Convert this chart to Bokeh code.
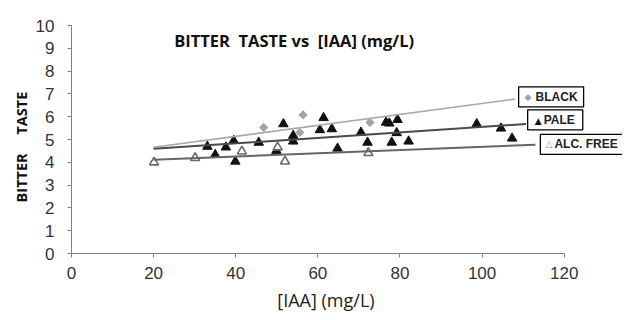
import math
from bokeh.plotting import figure
from bokeh.models import Range1d, Label, FixedTicker
from bokeh.embed import file_html
from bokeh.resources import INLINE

# ---- data ----
black_x = [46.8, 56.4, 55.6, 72.7]
black_y = [5.53, 6.08, 5.31, 5.75]

pale_x = [33.1, 35.0, 37.6, 39.9, 39.5, 45.6, 49.9, 51.6, 54.0, 54.0, 60.5, 61.4, 63.4,
          64.8, 70.5, 72.1, 76.6, 77.4, 79.4, 79.2, 78.0, 82.1, 98.7, 104.6, 107.3]
pale_y = [4.69, 4.33, 4.66, 4.04, 4.95, 4.87, 4.51, 5.68, 5.17, 4.92, 5.42, 5.95, 5.46,
          4.61, 5.31, 4.87, 5.75, 5.71, 5.87, 5.29, 4.87, 4.92, 5.68, 5.49, 5.05]

alc_x = [20.1, 30.1, 41.5, 50.2, 52.0, 72.3]
alc_y = [4.00, 4.19, 4.48, 4.66, 4.04, 4.41]

# trend lines (end points)
black_fit_x = [20.0, 108.0]
black_fit_y = [4.66, 6.77]
pale_fit_x = [20.0, 110.7]
pale_fit_y = [4.59, 5.68]
alc_fit_x = [20.0, 113.0]
alc_fit_y = [4.11, 4.77]

x_ticks = [0, 20, 40, 60, 80, 100, 120]
y_ticks = [0, 1, 2, 3, 4, 5, 6, 7, 8, 9, 10]

NB = "\u00a0"

p = figure(frame_width=551, frame_height=228, output_backend="svg", toolbar_location=None,
           x_range=Range1d(0, 134.2), y_range=Range1d(0, 10),
           min_border_left=71, min_border_right=0, min_border_top=25, min_border_bottom=60)
p.outline_line_color = None
p.xgrid.visible = False
p.ygrid.visible = False
p.background_fill_color = "white"
p.border_fill_color = "white"

for ax in (p.xaxis[0], p.yaxis[0]):
    ax.axis_line_color = "#808080"
    ax.major_tick_line_color = "#808080"
    ax.minor_tick_line_color = None
    ax.major_tick_in = 0
    ax.major_tick_out = 4
    ax.major_label_text_font = "Liberation Sans"
    ax.major_label_text_font_size = "17px"
    ax.major_label_text_color = "#333333"

p.xaxis.bounds = (0, 120)
p.xaxis.ticker = FixedTicker(ticks=x_ticks)
p.yaxis.ticker = FixedTicker(ticks=y_ticks)
p.xaxis.major_label_standoff = 9
p.yaxis.major_label_standoff = 13

p.xaxis.axis_label = "[IAA] (mg/L)" + NB * 9
p.xaxis.axis_label_text_font = "Open Sans"
p.xaxis.axis_label_text_font_style = "normal"
p.xaxis.axis_label_text_font_size = "18px"
p.xaxis.axis_label_text_color = "#222222"
p.xaxis.axis_label_standoff = 6

p.yaxis.axis_label = "BITTER" + NB * 5 + "TASTE" + NB * 4
p.yaxis.axis_label_text_font = "Open Sans"
p.yaxis.axis_label_text_font_style = "bold"
p.yaxis.axis_label_text_font_size = "14.5px"
p.yaxis.axis_label_text_color = "#111111"
p.yaxis.axis_label_standoff = 2

# markers
p.scatter(black_x, black_y, marker="square", size=6.5, angle=math.pi / 4,
          fill_color="#a3a3a3", line_color=None)
p.scatter(pale_x, pale_y, marker="triangle", size=9.5, fill_color="#111111", line_color="#111111")
p.scatter(alc_x, alc_y, marker="triangle", size=9, fill_color="white", line_color="#6a6a6a",
          line_width=1.6)

# trend lines
p.line(black_fit_x, black_fit_y, line_color="#a8a8a8", line_width=1.6)
p.line(pale_fit_x, pale_fit_y, line_color="#4a4a4a", line_width=2)
p.line(alc_fit_x, alc_fit_y, line_color="#666666", line_width=2)

# title
p.add_layout(Label(x=25.0, y=9.33,
                   text="BITTER" + NB + " TASTE vs" + NB + " [IAA] (mg/L)",
                   text_font="Open Sans", text_font_style="bold", text_font_size="16.5px",
                   text_color="#111111", text_baseline="middle", text_align="left"))

# legend boxes (x = left edge of box, y = box centre)
def legend_box(x, y, name, pad_left, pad_right):
    p.add_layout(Label(x=x, y=y, text=name, text_font="Liberation Sans", text_font_style="bold",
                       text_font_size="12px", text_color="#222222", text_baseline="middle",
                       text_align="left", border_line_color="black", border_line_width=1.3,
                       background_fill_color="white",
                       padding=dict(left=pad_left, right=pad_right, top=3, bottom=3)))

legend_box(108.9, 6.87, "BLACK", 17, 6)
legend_box(111.1, 5.86, "PALE", 16, 8)
legend_box(114.2, 4.79, "ALC. FREE", 14, 5)

p.add_layout(Label(x=111.2, y=6.85, text="\u25c6", text_font="DejaVu Sans", text_font_size="9px",
                   text_color="#a0a0a0", text_baseline="middle", text_align="center"))
p.add_layout(Label(x=113.7, y=5.80, text="\u25b2", text_font="DejaVu Sans", text_font_size="9px",
                   text_color="#111111", text_baseline="middle", text_align="center"))
p.add_layout(Label(x=116.3, y=4.80, text="\u25b3", text_font="DejaVu Sans", text_font_size="9px",
                   text_color="#909090", text_baseline="middle", text_align="center"))

open("out.html", "w").write(file_html(p, INLINE))
